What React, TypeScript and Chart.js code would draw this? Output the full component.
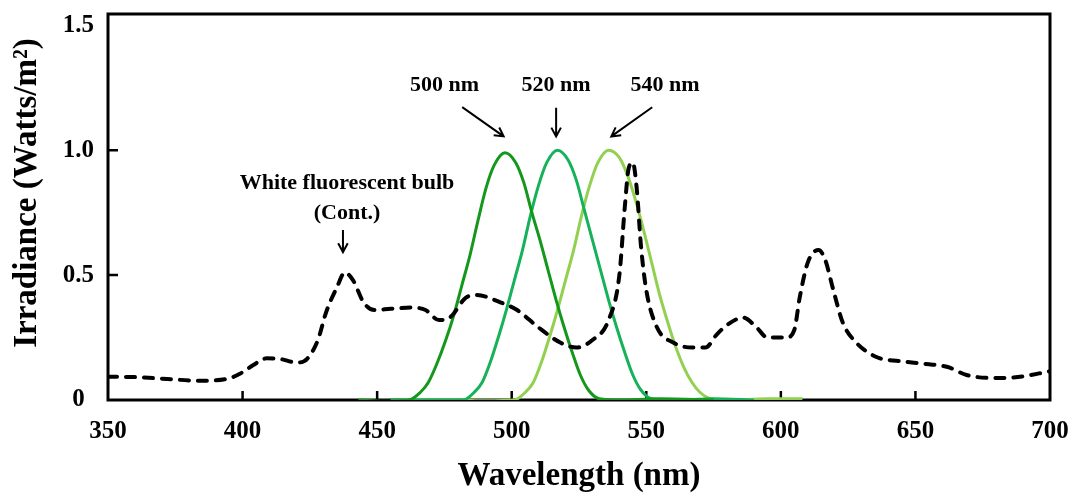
import React, { useEffect, useRef } from 'react';
import { Chart, registerables } from 'chart.js';

Chart.register(...registerables);

// ---- Data ----
const bulbWavelength = [
  350, 359, 372, 384, 394, 399, 404, 409, 414, 420, 424, 428, 431, 435, 438, 441, 445, 449,
  455, 463, 468, 473, 477, 483, 487, 496, 502, 510, 518, 524, 530, 536, 540, 542, 543.5, 545,
  546.5, 548, 550, 554, 560, 567, 572, 576, 580, 586, 591, 595, 602, 605, 607, 610, 614, 616.5,
  619.5, 623, 628, 636, 644, 654, 662, 669, 679, 688, 700,
];
const bulbIrradiance = [
  0.093, 0.092, 0.084, 0.077, 0.084, 0.105, 0.14, 0.167, 0.164, 0.15, 0.165, 0.24, 0.35, 0.45, 0.51, 0.48, 0.39, 0.36,
  0.365, 0.37, 0.36, 0.32, 0.33, 0.41, 0.42, 0.39, 0.36, 0.29, 0.23, 0.21, 0.24, 0.32, 0.5, 0.77, 0.93, 0.95,
  0.84, 0.62, 0.44, 0.29, 0.23, 0.21, 0.21, 0.26, 0.3, 0.33, 0.29, 0.25, 0.25, 0.28, 0.41, 0.55, 0.6, 0.56,
  0.44, 0.31, 0.23, 0.17, 0.156, 0.144, 0.132, 0.1, 0.088, 0.092, 0.115,
];

const led500Wavelength = [
  443, 452, 462, 466, 469, 472, 475.5, 478.5, 481.5, 484.5, 487.5, 490.5, 493.5, 497.5,
  501.5, 504.5, 507.5, 510.5, 513.5, 516.5, 519.5, 522.5, 525.5, 528.5, 532.5, 540, 555, 575,
];
const led500Irradiance = [
  0, -0.005, 0, 0.03, 0.07, 0.14, 0.24, 0.34, 0.46, 0.58, 0.72, 0.85, 0.94, 0.99,
  0.95, 0.87, 0.75, 0.64, 0.52, 0.4, 0.29, 0.19, 0.1, 0.04, 0.005, 0, 0.005, 0,
];

const led520Wavelength = [
  455, 470, 482, 486, 489, 492, 495, 498, 501, 504, 507, 510, 513, 517,
  521, 524, 527, 530, 533, 536, 539, 542, 545, 548, 552, 560, 575, 590,
];
const led520Irradiance = [
  0, 0, 0, 0.03, 0.07, 0.15, 0.25, 0.36, 0.48, 0.6, 0.74, 0.86, 0.95, 1.0,
  0.96, 0.88, 0.76, 0.64, 0.52, 0.4, 0.29, 0.19, 0.1, 0.04, 0.005, 0, 0.005, 0,
];

const led540Wavelength = [
  460, 480, 490, 501, 505, 508, 511, 514, 517, 520, 523, 526, 529, 532, 536,
  540, 543, 546, 549, 552, 555, 558, 561, 564, 567, 570, 574, 580, 595, 608,
];
const led540Irradiance = [
  0, 0, -0.003, 0, 0.03, 0.07, 0.15, 0.25, 0.36, 0.48, 0.6, 0.74, 0.86, 0.95, 1.0,
  0.97, 0.9, 0.8, 0.68, 0.55, 0.42, 0.31, 0.21, 0.13, 0.07, 0.03, 0.005, 0, 0.005, 0.005,
];

const seriesNames = ['White fluorescent bulb (Cont.)', '500 nm', '520 nm', '540 nm'];
const xTickValues = [350, 400, 450, 500, 550, 600, 650, 700];
const yTickValues = [0, 0.5, 1.0, 1.5];
const xAxisTitle = 'Wavelength (nm)';
const yAxisTitle = 'Irradiance (Watts/m\u00B2)';

// Annotation texts, anchored in data coordinates
const noteTexts = ['500 nm', '520 nm', '540 nm', 'White fluorescent bulb', '(Cont.)'];
const noteX = [475, 516.5, 557, 438.8, 438.8];
const noteY = [1.26, 1.26, 1.26, 0.868, 0.748];

// Arrows (tail -> head), in data coordinates
const arrowFromX = [481.6, 516.5, 552.2, 437.3];
const arrowFromY = [1.172, 1.17, 1.172, 0.68];
const arrowToX = [497.0, 516.5, 537.0, 437.3];
const arrowToY = [1.055, 1.055, 1.055, 0.592];

const FONT = '"Liberation Serif", "Times New Roman", serif';

const zip = (xs: number[], ys: number[]) => xs.map((x, i) => ({ x, y: ys[i] }));

const decorPlugin = {
  id: 'decor',
  beforeDatasetsDraw(chart: any) {
    const { ctx, chartArea, scales } = chart;
    const { left, right, top, bottom } = chartArea;
    const x = scales.x;
    const y = scales.y;
    ctx.save();
    ctx.strokeStyle = '#000';
    ctx.lineWidth = 3;
    ctx.strokeRect(left, top, right - left, bottom - top);
    ctx.lineWidth = 2.5;
    ctx.beginPath();
    x.ticks.forEach((t: any) => {
      if (t.value > x.min && t.value < x.max) {
        const px = x.getPixelForValue(t.value);
        ctx.moveTo(px, bottom);
        ctx.lineTo(px, bottom - 9);
      }
    });
    y.ticks.forEach((t: any) => {
      const py = y.getPixelForValue(t.value);
      if (t.value > y.min && py > top + 15) {
        ctx.moveTo(left, py);
        ctx.lineTo(left + 10, py);
      }
    });
    ctx.stroke();
    ctx.restore();
  },
  afterDraw(chart: any) {
    const { ctx, chartArea, scales } = chart;
    const x = scales.x;
    const y = scales.y;
    ctx.save();
    ctx.fillStyle = '#000';
    ctx.strokeStyle = '#000';
    ctx.font = `bold 22px ${FONT}`;
    ctx.textAlign = 'center';
    ctx.textBaseline = 'middle';
    noteTexts.forEach((t, i) => {
      ctx.fillText(t, x.getPixelForValue(noteX[i]), y.getPixelForValue(noteY[i]));
    });
    ctx.lineWidth = 2;
    arrowFromX.forEach((fx, i) => {
      const x0 = x.getPixelForValue(fx);
      const y0 = y.getPixelForValue(arrowFromY[i]);
      const x1 = x.getPixelForValue(arrowToX[i]);
      const y1 = y.getPixelForValue(arrowToY[i]);
      const ang = Math.atan2(y1 - y0, x1 - x0);
      const head = 10;
      ctx.beginPath();
      ctx.moveTo(x0, y0);
      ctx.lineTo(x1, y1);
      ctx.moveTo(x1 - head * Math.cos(ang - 0.5), y1 - head * Math.sin(ang - 0.5));
      ctx.lineTo(x1, y1);
      ctx.lineTo(x1 - head * Math.cos(ang + 0.5), y1 - head * Math.sin(ang + 0.5));
      ctx.stroke();
    });
    // Y axis title
    ctx.font = `bold 33px ${FONT}`;
    ctx.translate(27.5, (chartArea.top + chartArea.bottom) / 2 - 14);
    ctx.rotate(-Math.PI / 2);
    ctx.fillText(yAxisTitle, 0, 0);
    ctx.restore();
  },
};

export default function App() {
  const canvasRef = useRef<HTMLCanvasElement | null>(null);

  useEffect(() => {
    document.body.style.margin = '0';
    const canvas = canvasRef.current;
    if (!canvas) return;
    const chart = new Chart(canvas, {
      type: 'line',
      data: {
        datasets: [
          {
            label: seriesNames[0],
            data: zip(bulbWavelength, bulbIrradiance),
            borderColor: '#000000',
            borderWidth: 4,
            borderDash: [9, 9],
            borderCapStyle: 'round',
            pointRadius: 0,
            cubicInterpolationMode: 'monotone',
            fill: false,
            order: 0,
          },
          {
            label: seriesNames[1],
            data: zip(led500Wavelength, led500Irradiance),
            borderColor: '#13981c',
            borderWidth: 3,
            pointRadius: 0,
            cubicInterpolationMode: 'monotone',
            fill: false,
            order: 1,
          },
          {
            label: seriesNames[2],
            data: zip(led520Wavelength, led520Irradiance),
            borderColor: '#16b25a',
            borderWidth: 3,
            pointRadius: 0,
            cubicInterpolationMode: 'monotone',
            fill: false,
            order: 2,
          },
          {
            label: seriesNames[3],
            data: zip(led540Wavelength, led540Irradiance),
            borderColor: '#92d050',
            borderWidth: 3,
            pointRadius: 0,
            cubicInterpolationMode: 'monotone',
            fill: false,
            order: 3,
          },
        ],
      },
      options: {
        responsive: false,
        animation: false,
        layout: { padding: { left: 0, right: 24, top: 14, bottom: 0 } },
        plugins: {
          legend: { display: false },
          tooltip: { enabled: false },
        },
        scales: {
          x: {
            type: 'linear',
            min: 350,
            max: 700,
            grid: { display: false, drawTicks: false },
            border: { display: false },
            afterBuildTicks: (scale: any) => {
              scale.ticks = xTickValues.map((v) => ({ value: v }));
            },
            afterFit: (scale: any) => {
              scale.height = 96;
              scale.paddingLeft = 0;
              scale.paddingRight = 0;
            },
            ticks: {
              color: '#000',
              padding: 17,
              maxRotation: 0,
              font: { family: FONT, weight: 'bold', size: 25 },
              callback: (v: any) => String(v),
            },
            title: {
              display: true,
              text: xAxisTitle,
              color: '#000',
              font: { family: FONT, weight: 'bold', size: 33 },
              padding: { top: 0, bottom: 0 },
            },
          },
          y: {
            type: 'linear',
            min: 0,
            max: 1.545,
            grid: { display: false, drawTicks: false },
            border: { display: false },
            afterBuildTicks: (scale: any) => {
              scale.ticks = yTickValues.map((v) => ({ value: v }));
            },
            afterFit: (scale: any) => {
              scale.width = 108;
              scale.paddingTop = 0;
              scale.paddingBottom = 0;
            },
            ticks: {
              color: '#000',
              padding: 14,
              crossAlign: 'center',
              font: { family: FONT, weight: 'bold', size: 25 },
              callback: (v: any) => (Number(v) === 0 ? '0' : Number(v).toFixed(1)),
            },
            title: { display: false },
          },
        },
      },
      plugins: [decorPlugin],
    } as any);
    return () => chart.destroy();
  }, []);

  return (
    <div style={{ width: 1074, height: 496 }}>
      <canvas ref={canvasRef} width={1074} height={496} />
    </div>
  );
}
